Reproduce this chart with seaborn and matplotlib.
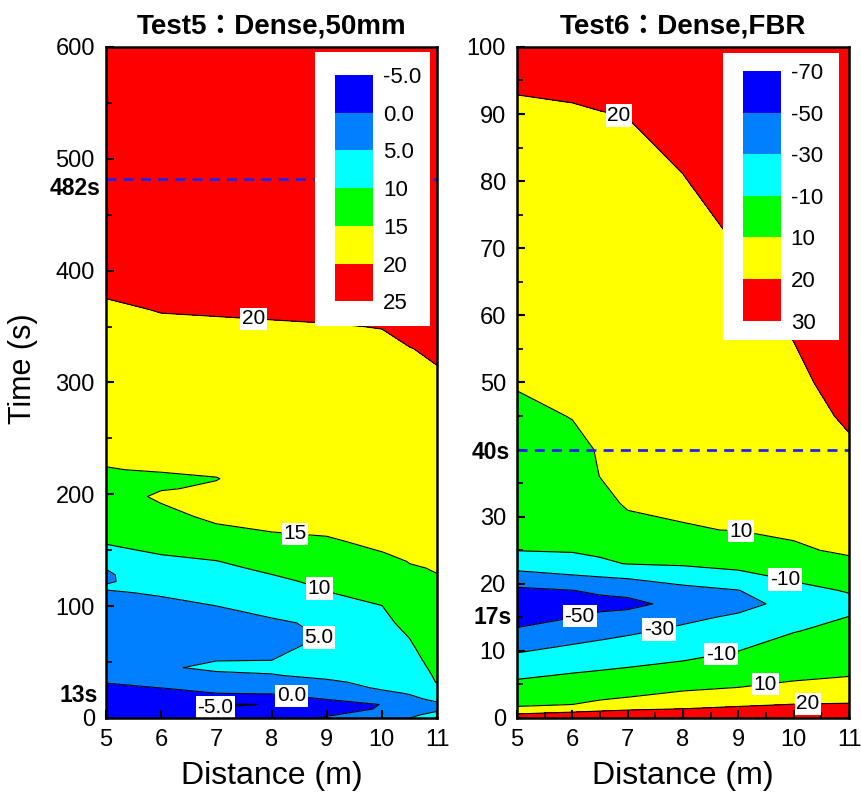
import numpy as np
import matplotlib
matplotlib.use("Agg")
import matplotlib.pyplot as plt
import matplotlib.transforms as mtransforms
from matplotlib.colors import ListedColormap, BoundaryNorm
from matplotlib.cm import ScalarMappable
from matplotlib.ticker import MultipleLocator
import seaborn as sns

# ---- Test5 : Dense,50mm  (temperature read per distance column) ----
dist5 = [5, 6, 7, 8, 9, 10, 10.5, 11]
time5 = [0, 3, 8, 12, 17, 22, 27, 32, 38, 45, 52, 60, 72, 85, 100, 112, 118, 122, 128, 134,
         140, 148, 158, 168, 180, 192, 198, 205, 214, 222, 235, 280, 330, 350, 365, 380, 450, 600]
t5_x5 = [-3, -3.5, -4, -4, -3, -2, -1, 0.2, 0.4, 0.8, 1.3, 1.7, 2.4, 3.2, 4.1, 4.8, 5.3, 4.6, 4.5, 5.1,
         6.7, 8.9, 10.4, 11.1, 12.0, 12.8, 13.2, 13.7, 14.3, 14.9, 15.4, 16.8, 18.5, 19.1, 19.6, 20.2, 22, 24]
t5_x6 = [-3, -3.5, -4, -4.3, -3, -1.6, 0.05, 1.0, 2.3, 4.6, 4.7, 4.0, 3.8, 4.0, 4.5, 5.2, 6.2, 6.8, 7.5, 8.3,
         9.1, 10.3, 11.5, 12.6, 13.8, 15.02, 15.6, 14.8, 14.5, 15.2, 15.8, 17.2, 18.9, 19.6, 20.1, 20.6, 22.5, 24]
t5_x7 = [-3, -4, -4.8, -5.3, -3.2, -0.05, 1.8, 3.0, 4.4, 5.6, 4.9, 4.2, 3.9, 4.2, 4.98, 6.4, 7.1, 7.6, 8.4, 9.1,
         9.9, 11.1, 12.6, 14.3, 15.8, 16.0, 15.8, 15.4, 14.9, 15.5, 16.2, 17.7, 19.1, 19.7, 20.2, 20.7, 22.5, 24]
t5_x8 = [-2.5, -3.5, -4.5, -4.9, -2.5, 0.3, 2.0, 3.3, 4.8, 5.8, 4.95, 4.2, 3.8, 4.5, 6.2, 7.8, 8.5, 9.1, 9.95, 10.8,
         11.6, 12.6, 14.0, 15.2, 16.0, 16.4, 16.5, 16.5, 16.5, 16.7, 17.0, 18.0, 19.3, 19.8, 20.3, 20.8, 22.5, 24]
t5_x9 = [0.5, -0.5, -2.5, -2, 0.2, 2.0, 3.2, 4.4, 5.8, 6.8, 7.2, 6.5, 5.2, 5.6, 8.2, 9.9, 10.5, 10.9, 11.5, 12.0,
         12.6, 13.5, 14.6, 15.5, 16.2, 16.6, 16.8, 17.0, 17.1, 17.3, 17.5, 18.3, 19.4, 19.9, 20.4, 20.9, 22.5, 24]
t5_x10 = [3, 2, 0.5, 0.1, 2, 4.2, 5.5, 6.0, 6.5, 7.0, 7.4, 7.8, 8.4, 9.1, 9.95, 11.0, 11.5, 11.9, 12.5, 13.1,
          13.7, 14.95, 15.8, 16.5, 17.0, 17.4, 17.6, 17.8, 18.0, 18.1, 18.3, 18.9, 19.6, 20.05, 20.5, 21.0, 22.6, 24]
t5_x105 = [5, 3.5, 2.5, 3, 4.2, 5.2, 6.0, 6.6, 7.3, 8.0, 8.6, 9.2, 10.05, 11.0, 12.2, 13.1, 13.5, 13.8, 14.3, 14.7,
           15.15, 15.6, 16.2, 16.6, 17.0, 17.4, 17.6, 17.8, 18.0, 18.2, 18.4, 19.1, 19.95, 20.5, 20.9, 21.3, 22.8, 24]
t5_x11 = [10.5, 7, 3.5, 4.3, 5.8, 7.4, 8.8, 10.2, 10.6, 11.1, 11.6, 12.1, 12.9, 13.6, 14.1, 14.4, 14.6, 14.8, 14.95, 15.2,
          15.5, 15.9, 16.3, 16.7, 17.1, 17.5, 17.7, 17.9, 18.1, 18.3, 18.6, 19.4, 20.25, 20.9, 21.3, 21.7, 23, 24]
levels5 = [-5, 0, 5, 10, 15, 20, 25]
ticklabels5 = ["-5.0", "0.0", "5.0", "10", "15", "20", "25"]

# ---- Test6 : Dense,FBR ----
dist6 = [5, 6, 6.5, 7, 8, 9, 10, 11]
time6 = [0, 1, 2, 4, 7, 10, 13, 15, 17, 19, 21, 23, 25, 28, 32, 36, 40, 45, 50, 60, 70, 80, 90, 100]
t6_x5 = [26, 16, 7.7, -1.6, -16, -31.5, -47.8, -57, -62, -54, -37, -22, -9.5, -7.4, -4, -0.6, 2.8, 7, 11.0, 12.5, 14.8, 17, 19.2, 22]
t6_x6 = [26, 19.1, 10.05, 1.5, -11.4, -25.3, -40, -50.3, -58, -50.3, -32.6, -16.4, -8.75, -5.6, -1.5, 2.7, 6.9, 10.4, 11.4, 13.5, 15.5, 17.6, 19.6, 22]
t6_x65 = [26, 20.2, 13.3, 3.5, -9.6, -22.6, -36.5, -46.5, -55, -47.4, -30.2, -12.6, -7.1, -2, 4.9, 10.2, 10.9, 11.8, 12.7, 14.5, 16.3, 18.1, 19.9, 22]
t6_x7 = [26, 21, 15.3, 5.6, -7.8, -20.2, -33.1, -43.3, -55, -44.4, -28, -9.4, -4, 4.4, 12.0, 12.3, 12.7, 13.2, 13.8, 15.1, 16.7, 18.4, 20.1, 22]
t6_x8 = [26, 21.5, 17.4, 10.1, -4, -16, -26.5, -34, -44, -35, -22.4, -7.7, -1.3, 9.6, 11.0, 11.4, 12.2, 13.1, 14.1, 16, 17.9, 19.8, 21.7, 23.5]
t6_x9 = [26, 23, 18.8, 12.7, -1.8, -10.1, -20.3, -27.2, -36, -30.5, -15.2, -5.1, 2.5, 10.2, 11.2, 12.1, 13, 14.2, 15.3, 17.7, 20.05, 22, 24, 25]
t6_x10 = [26, 23, 20.2, 14.3, 5.8, -2.5, -10.8, -17, -24, -15.5, -7.1, 1, 9.2, 10.9, 12.2, 13.5, 14.8, 16.4, 18, 21.3, 24, 26, 27, 28]
t6_x11 = [26, 23, 20.5, 15.4, 8, 1.4, -5.2, -9.6, -15, -8.7, 0, 8.7, 10.9, 12.4, 14.5, 16.6, 18.7, 21.3, 23.5, 26, 27, 28, 28.5, 29]
levels6 = [-70, -50, -30, -10, 10, 20, 30]
ticklabels6 = ["-70", "-50", "-30", "-10", "10", "20", "30"]

band_colors = ["#0000ff", "#0080ff", "#00ffff", "#00ff00", "#ffff00", "#ff0000"]

sns.set_theme(style="white")
plt.rcParams['font.family'] = ['Liberation Sans', 'Noto Sans CJK JP', 'DejaVu Sans']
plt.rcParams.update({'text.color': 'black', 'axes.labelcolor': 'black',
                     'xtick.color': 'black', 'ytick.color': 'black'})

palette = sns.color_palette(band_colors)
cmap = ListedColormap(palette)
cmap.set_under(palette[0])
cmap.set_over(palette[-1])

fig = plt.figure(figsize=(8.62, 7.98), dpi=100)
ax5 = fig.add_axes([0.1230, 0.1003, 0.3840, 0.8409])
ax6 = fig.add_axes([0.5998, 0.1003, 0.3852, 0.8409])


def panel(ax, dist, times, cols, levels, labels, fmt, spots, legend_box, legend_bar):
    field = np.array(cols).T
    norm = BoundaryNorm(levels, cmap.N)
    ax.contourf(dist, times, field, levels=levels, cmap=cmap, norm=norm, extend='both')
    cs = ax.contour(dist, times, field, levels=levels[:-1], colors='black', linewidths=0.8,
                    negative_linestyles='solid')
    txts = ax.clabel(cs, levels=levels[:-1], fmt=fmt, manual=spots, inline=True,
                     inline_spacing=2, fontsize=15)
    for t in txts:
        t.set_rotation(0)
        t.set_bbox(dict(boxstyle='square,pad=0.08', facecolor='white', edgecolor='none'))

    # legend: white box + stacked colour blocks
    box = ax.inset_axes(legend_box, zorder=5)
    box.set_facecolor('white')
    box.set_xticks([])
    box.set_yticks([])
    for s in box.spines.values():
        s.set_visible(False)
    cax = ax.inset_axes(legend_bar, zorder=6)
    cb = fig.colorbar(ScalarMappable(norm=norm, cmap=ListedColormap(palette)), cax=cax, ticks=levels)
    cb.set_ticklabels(labels)
    cb.outline.set_visible(False)
    cax.invert_yaxis()
    cax.tick_params(length=0, labelsize=16, pad=7)

    ax.set_axisbelow(False)
    for s in ax.spines.values():
        s.set_linewidth(1.8)
        s.set_color('black')
        s.set_zorder(7)
    ax.tick_params(which='both', direction='in', bottom=True, left=True, top=False, right=False,
                   colors='black', labelsize=17, pad=8)
    ax.tick_params(which='major', length=6, width=1.5)
    ax.tick_params(which='minor', length=4, width=1.2)
    ax.set_xlabel('Distance (m)', fontsize=23, labelpad=7)


fmt5 = {-5: '-5.0', 0: '0.0', 5: '5.0', 10: '10', 15: '15', 20: '20'}
spots5 = [(7.68, 359), (8.44, 172), (8.91, 121), (9.13, 64), (8.37, 22), (6.99, 11)]
panel(ax5, dist5, time5, [t5_x5, t5_x6, t5_x7, t5_x8, t5_x9, t5_x10, t5_x105, t5_x11],
      levels5, ticklabels5, fmt5, spots5,
      [0.631, 0.584, 0.348, 0.4085], [0.692, 0.621, 0.115, 0.337])
ax5.set_xlim(5, 11)
ax5.set_ylim(0, 600)
ax5.set_xticks(range(5, 12))
ax5.set_yticks(range(0, 601, 100))
ax5.yaxis.set_minor_locator(MultipleLocator(50))
ax5.set_title('Test5：Dense,50mm', fontsize=20, fontweight='bold', pad=10)

fmt6 = {-50: '-50', -30: '-30', -10: '-10', 10: '10', 20: '20'}
spots6 = [(6.84, 89.7), (9.05, 28), (9.84, 20.6), (6.14, 14.9), (7.58, 12.7),
          (8.67, 10.1), (9.48, 5.5), (10.26, 2.1)]
panel(ax6, dist6, time6, [t6_x5, t6_x6, t6_x65, t6_x7, t6_x8, t6_x9, t6_x10, t6_x11],
      levels6, ticklabels6, fmt6, spots6,
      [0.620, 0.563, 0.350, 0.428], [0.681, 0.592, 0.114, 0.372])
ax6.set_xlim(5, 11)
ax6.set_ylim(0, 100)
ax6.set_xticks(range(5, 12))
yt6 = list(range(0, 101, 10))
ax6.set_yticks(yt6, ['' if v == 40 else str(v) for v in yt6])
ax6.xaxis.set_minor_locator(MultipleLocator(0.5))
ax6.yaxis.set_minor_locator(MultipleLocator(5))
ax6.set_title('Test6：Dense,FBR', fontsize=20, fontweight='bold', pad=10)

# marked instants
dash = (0, (3.6, 2.6))
ax5.axhline(482, color='#2222ee', lw=2, ls=dash, zorder=3)
ax6.axhline(40, color='#2222ee', lw=2, ls=dash, zorder=3)
marks = [(ax5, 482, '482s', -0.018, -7), (ax5, 13, '13s', -0.024, 6),
         (ax6, 40, '40s', -0.021, -2), (ax6, 17, '17s', -0.016, -10)]
for ax, t, lab, xa, dy in marks:
    tr = mtransforms.blended_transform_factory(ax.transAxes, ax.transData)
    ax.annotate(lab, xy=(xa, t), xycoords=tr, xytext=(0, dy), textcoords='offset points',
                ha='right', va='center', fontsize=16.5, fontweight='bold',
                annotation_clip=False)

fig.text(23.5 / 862, 1 - 369 / 798, 'Time (s)', rotation=90, ha='center', va='center',
         fontsize=22, family=['Liberation Sans Narrow', 'Liberation Sans'])

fig.savefig('out.png', dpi=100)
